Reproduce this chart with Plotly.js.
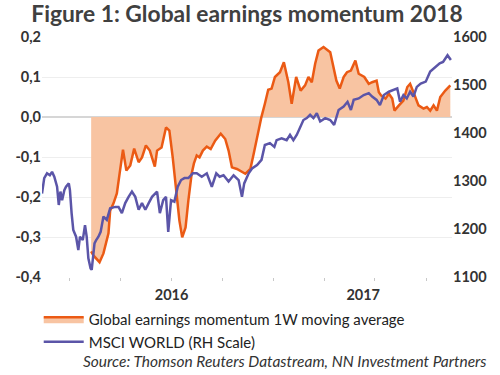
<!DOCTYPE html>
<html>
<head>
<meta charset="utf-8">
<script src="https://cdn.plot.ly/plotly-3.0.1.min.js"></script>
<style>html,body{margin:0;padding:0;background:#fff;}#chart{width:500px;height:375px;}</style>
</head>
<body>
<div id="chart"></div>
<script>
// Global earnings momentum, 1W moving average (left scale)
var momDates = ['2016-02-09','2016-02-13','2016-02-24','2016-03-02','2016-03-11','2016-03-14','2016-03-20','2016-03-26','2016-03-31','2016-04-06',
  '2016-04-12','2016-04-19','2016-04-26','2016-05-04','2016-05-10','2016-05-17','2016-05-24','2016-06-02','2016-06-06','2016-06-14',
  '2016-06-22','2016-06-28','2016-07-04','2016-07-10','2016-07-16','2016-07-21','2016-07-27','2016-08-01','2016-08-07','2016-08-11',
  '2016-08-16','2016-08-21','2016-08-27','2016-09-03','2016-09-10','2016-09-18','2016-09-28','2016-10-06','2016-10-12','2016-10-18',
  '2016-10-27','2016-11-11','2016-11-20','2016-11-26','2016-12-04','2016-12-10','2016-12-16','2016-12-22','2016-12-28','2017-01-03',
  '2017-01-12','2017-01-19','2017-01-27','2017-02-02','2017-02-10','2017-02-18','2017-02-26','2017-03-04','2017-03-10','2017-03-16',
  '2017-03-22','2017-03-31','2017-04-12','2017-04-18','2017-04-23','2017-04-29','2017-05-06','2017-05-12','2017-05-19','2017-05-27',
  '2017-06-02','2017-06-12','2017-06-20','2017-06-26','2017-07-04','2017-07-08','2017-07-12','2017-07-20','2017-07-26','2017-08-01',
  '2017-08-05','2017-08-13','2017-08-21','2017-08-28','2017-09-02','2017-09-09','2017-09-17','2017-09-26','2017-10-02','2017-10-08',
  '2017-10-14','2017-10-20','2017-10-26','2017-11-04','2017-11-13'];
var momValues = [-0.336,-0.346,-0.363,-0.341,-0.291,-0.234,-0.216,-0.191,-0.141,-0.082,
  -0.134,-0.121,-0.079,-0.113,-0.101,-0.071,-0.084,-0.124,-0.084,-0.076,
  -0.026,-0.034,-0.101,-0.176,-0.259,-0.301,-0.276,-0.209,-0.141,-0.116,
  -0.096,-0.101,-0.084,-0.074,-0.080,-0.059,-0.042,-0.055,-0.084,-0.126,
  -0.130,-0.142,-0.130,-0.092,-0.034,0.001,0.033,0.068,0.071,0.100,
  0.112,0.137,0.087,0.033,0.100,0.066,0.079,0.100,0.087,0.133,
  0.166,0.175,0.162,0.125,0.091,0.071,0.100,0.112,0.116,0.141,
  0.108,0.100,0.083,0.087,0.091,0.062,0.054,0.046,0.058,0.046,
  0.016,0.029,0.041,0.075,0.083,0.058,0.029,0.021,0.025,0.016,
  0.029,0.016,0.050,0.066,0.079];

// MSCI World (right scale)
var msciDates = ['2015-11-13','2015-11-17','2015-11-22','2015-11-27','2015-12-01','2015-12-05','2015-12-10','2015-12-13','2015-12-16','2015-12-19',
  '2015-12-23','2015-12-26','2015-12-31','2016-01-02','2016-01-05','2016-01-08','2016-01-13','2016-01-17','2016-01-20','2016-01-25',
  '2016-01-29','2016-02-01','2016-02-04','2016-02-08','2016-02-10','2016-02-12','2016-02-15','2016-02-18','2016-02-22','2016-02-26',
  '2016-03-02','2016-03-08','2016-03-14','2016-03-23','2016-03-29','2016-04-04','2016-04-10','2016-04-16','2016-04-22','2016-04-28',
  '2016-05-04','2016-05-10','2016-05-16','2016-05-22','2016-05-28','2016-06-06','2016-06-11','2016-06-17','2016-06-22','2016-06-26',
  '2016-07-01','2016-07-07','2016-07-13','2016-07-19','2016-07-25','2016-08-01','2016-08-09','2016-08-16','2016-08-25','2016-09-03',
  '2016-09-12','2016-09-20','2016-09-26','2016-10-03','2016-10-12','2016-10-21','2016-10-30','2016-11-05','2016-11-09','2016-11-17',
  '2016-11-23','2016-12-02','2016-12-10','2016-12-16','2016-12-25','2017-01-02','2017-01-06','2017-01-15','2017-01-24','2017-01-30',
  '2017-02-05','2017-02-11','2017-02-17','2017-02-23','2017-03-01','2017-03-07','2017-03-13','2017-03-19','2017-03-25','2017-04-03',
  '2017-04-12','2017-04-19','2017-04-27','2017-05-06','2017-05-13','2017-05-19','2017-05-24','2017-06-02','2017-06-11','2017-06-20',
  '2017-06-26','2017-07-04','2017-07-10','2017-07-17','2017-07-26','2017-08-04','2017-08-10','2017-08-15','2017-08-21','2017-08-27',
  '2017-09-02','2017-09-08','2017-09-14','2017-09-21','2017-09-30','2017-10-08','2017-10-17','2017-10-25','2017-10-31','2017-11-04',
  '2017-11-08','2017-11-14'];
var msciValues = [1274,1306,1316,1312,1319,1309,1288,1250,1278,1260,
  1281,1288,1295,1281,1233,1198,1184,1156,1184,1177,
  1208,1184,1139,1118,1115,1135,1170,1177,1184,1194,
  1226,1219,1243,1246,1246,1233,1254,1267,1278,1267,
  1240,1254,1240,1254,1267,1278,1233,1260,1267,1194,
  1260,1257,1288,1302,1306,1306,1316,1316,1309,1316,
  1288,1316,1309,1312,1299,1312,1302,1267,1295,1316,
  1326,1333,1344,1375,1379,1371,1385,1389,1385,1396,
  1385,1396,1413,1427,1431,1438,1431,1441,1424,1431,
  1427,1417,1448,1455,1465,1448,1469,1472,1479,1483,
  1476,1469,1458,1479,1486,1490,1493,1465,1479,1472,
  1486,1476,1496,1503,1507,1528,1538,1545,1548,1556,
  1562,1552];

var leftTickVals = [0.2, 0.1, 0.0, -0.1, -0.2, -0.3, -0.4];
var leftTickText = ['0,2', '0,1', '0,0', '-0,1', '-0,2', '-0,3', '-0,4'];
var rightTickVals = [1100, 1200, 1300, 1400, 1500, 1600];
var rightTickText = ['1100', '1200', '1300', '1400', '1500', '1600'];
var yearTickVals = ['2016-07-02', '2017-06-10'];
var yearTickText = ['2016', '2017'];

var titleText = 'Figure 1: Global earnings momentum 2018';
var seriesNames = ['Global earnings momentum 1W moving average', 'MSCI WORLD (RH Scale)'];
var sourceText = 'Source: Thomson Reuters Datastream, NN Investment Partners';

var xRange = ['2015-11-13', '2017-11-16'];
var tickColor = '#333333';
var fontFam = 'Lato, "Open Sans", sans-serif';

var traces = [
  {
    x: momDates, y: momValues, name: seriesNames[0], type: 'scatter', mode: 'lines',
    fill: 'tozeroy', fillcolor: '#F8C4A2',
    line: {color: '#EB5A14', width: 2.5, shape: 'linear'},
    xaxis: 'x', yaxis: 'y'
  },
  {
    x: msciDates, y: msciValues, name: seriesNames[1], type: 'scatter', mode: 'lines',
    line: {color: '#5B55A8', width: 2.5},
    xaxis: 'x', yaxis: 'y2'
  }
];

var layout = {
  width: 500, height: 375,
  margin: {l: 42, r: 48, t: 37, b: 98},
  paper_bgcolor: '#ffffff', plot_bgcolor: '#ffffff',
  showlegend: true,
  title: {
    text: titleText, x: 0.5, xanchor: 'center', xref: 'paper',
    y: 0.962, yref: 'container', yanchor: 'middle',
    font: {family: fontFam, size: 22.8, weight: 700, color: '#404040'}
  },
  xaxis: {
    type: 'date', range: xRange, showgrid: false, zeroline: false,
    showline: false, ticks: '', ticklen: 0,
    tickmode: 'array', tickvals: yearTickVals, ticktext: yearTickText,
    ticklabelstandoff: 7,
    tickfont: {family: fontFam, size: 14.5, weight: 700, color: tickColor},
    minor: {tickmode: 'linear', tick0: '2016-01-01', dtick: 'M3', ticks: 'outside',
            ticklen: 3, tickcolor: '#c8c8c8', showgrid: false},
    fixedrange: true
  },
  yaxis: {
    range: [-0.4, 0.2], tickmode: 'array', tickvals: leftTickVals, ticktext: leftTickText,
    showgrid: true, gridcolor: '#eeeeee', gridwidth: 1,
    zeroline: true, zerolinecolor: '#d6d6d6', zerolinewidth: 1.5,
    showline: false, ticks: '',
    tickfont: {family: fontFam, size: 14.5, weight: 700, color: tickColor}
  },
  yaxis2: {
    range: [1100, 1600], overlaying: 'y', side: 'right', anchor: 'x',
    tickmode: 'array', tickvals: rightTickVals, ticktext: rightTickText,
    showgrid: false, zeroline: false, showline: false, ticks: '',
    tickfont: {family: fontFam, size: 14.5, weight: 700, color: tickColor}
  },
  legend: {
    x: -0.008, xanchor: 'left', y: -0.108, yanchor: 'top',
    orientation: 'v', bgcolor: 'rgba(0,0,0,0)',
    font: {family: fontFam, size: 15, color: '#222222'},
    tracegroupgap: 0, itemwidth: 40
  },
  annotations: [
    {
      text: sourceText, showarrow: false, xref: 'paper', yref: 'paper',
      x: 1.09, xanchor: 'right', y: -0.348, yanchor: 'middle',
      font: {family: fontFam, size: 15.5, style: 'italic', color: '#333333'}
    }
  ]
};

Plotly.newPlot('chart', traces, layout, {staticPlot: true, displayModeBar: false});
</script>
</body>
</html>
